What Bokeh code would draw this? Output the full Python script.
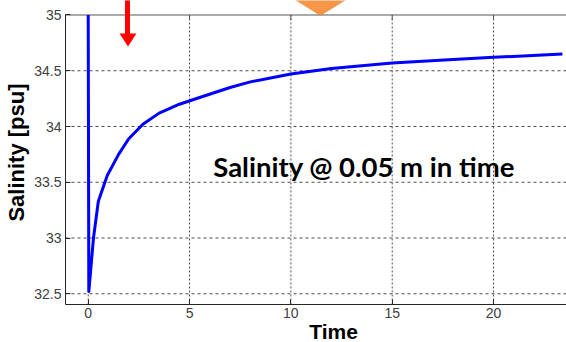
import math
from bokeh.plotting import figure
from bokeh.models import Range1d, FixedTicker, Label, PolyAnnotation
from bokeh.embed import file_html
from bokeh.resources import INLINE

# Surface salinity (0.05 m) through time
time = [0.0, 0.03, 0.26, 0.5, 0.94, 1.5, 2.0, 2.7, 3.5, 4.5, 5.5, 7.0, 8.0,
        10.0, 12.0, 15.0, 18.0, 20.0, 23.4]
salinity = [35.0, 32.52, 33.0, 33.33, 33.56, 33.75, 33.89, 34.02, 34.12, 34.2,
            34.26, 34.35, 34.40, 34.47, 34.52, 34.57, 34.60, 34.62, 34.65]

x_ticks = [0, 5, 10, 15, 20]
y_ticks = [32.5, 33.0, 33.5, 34.0, 34.5, 35.0]
y_tick_labels = {32.5: "32.5", 33.0: "33", 33.5: "33.5", 34.0: "34", 34.5: "34.5", 35.0: "35"}

# axes box limits (data units)
x_lo, x_hi = -1.12, 23.6
y_lo, y_hi = 32.404, 35.0

# the frame fills the whole canvas; the axes sit at fixed locations inside it
p = figure(width=566, height=342,
           x_range=Range1d(-4.328, 23.60), y_range=Range1d(32.063, 35.130),
           output_backend="svg", toolbar_location=None,
           min_border_left=0, min_border_right=0, min_border_top=0, min_border_bottom=0,
           outline_line_color=None,
           background_fill_color="white", border_fill_color="white")
p.grid.visible = False

# dashed grid at the tick positions, limited to the axes box
p.segment(x0=x_ticks, y0=[y_lo] * len(x_ticks), x1=x_ticks, y1=[y_hi] * len(x_ticks),
          line_color="#4d4d4d", line_width=1, line_dash="2 2")
p.segment(x0=[x_lo] * 5, y0=y_ticks[:-1], x1=[x_hi] * 5, y1=y_ticks[:-1],
          line_color="#4d4d4d", line_width=1, line_dash="3 3")

# top edge of the box with small inward ticks
p.segment(x0=[x_lo], y0=[y_hi], x1=[x_hi], y1=[y_hi], line_color="#555555", line_width=1)
p.segment(x0=x_ticks, y0=[y_hi] * len(x_ticks), x1=x_ticks,
          y1=[y_hi - 0.045] * len(x_ticks), line_color="#555555", line_width=1)

p.line(time, salinity, line_color="#0000FF", line_width=3, line_join="round")

for ax in (p.xaxis[0], p.yaxis[0]):
    ax.major_tick_in = 5
    ax.major_tick_out = 0
    ax.minor_tick_in = 0
    ax.minor_tick_out = 0
    ax.axis_line_color = "#262626"
    ax.major_tick_line_color = "#262626"
    ax.major_label_text_font = "Liberation Sans"
    ax.major_label_text_font_size = "14px"
    ax.major_label_text_color = "#404040"

p.xaxis.ticker = FixedTicker(ticks=x_ticks)
p.yaxis.ticker = FixedTicker(ticks=y_ticks)
p.yaxis.major_label_overrides = y_tick_labels
p.xaxis.fixed_location = y_lo
p.yaxis.fixed_location = x_lo
p.xaxis.bounds = (x_lo, x_hi)
p.yaxis.bounds = (y_lo, y_hi)
p.xaxis.major_label_standoff = 4
p.yaxis.major_label_standoff = 4

# axis titles (screen units measured from the frame's lower-left corner)
p.add_layout(Label(x=16, y=190, x_units="screen", y_units="screen",
                   text="Salinity [psu]", angle=math.pi / 2,
                   text_align="center", text_baseline="middle",
                   text_font="Liberation Sans", text_font_style="bold",
                   text_font_size="22px", text_color="black"))
p.add_layout(Label(x=333, y=11, x_units="screen", y_units="screen",
                   text="Time", text_align="center", text_baseline="alphabetic",
                   text_font="Liberation Sans", text_font_style="bold",
                   text_font_size="21px", text_color="black"))

p.add_layout(Label(x=6.17, y=33.645, text="Salinity @ 0.05 m in time",
                   text_align="left", text_baseline="alphabetic",
                   text_font="Lato", text_font_style="bold",
                   text_font_size="27.5px", text_color="black"))

# red marker arrow
p.add_layout(PolyAnnotation(xs=[124.5, 129.5, 129.5, 124.5], ys=[344, 344, 308, 308],
                            xs_units="screen", ys_units="screen",
                            fill_color="#FF0000", fill_alpha=1, line_color=None))
p.add_layout(PolyAnnotation(xs=[119, 136, 127.5], ys=[309, 309, 296],
                            xs_units="screen", ys_units="screen",
                            fill_color="#FF0000", fill_alpha=1, line_color=None))
# orange pointer
p.add_layout(PolyAnnotation(xs=[291, 349, 320], ys=[345, 345, 327],
                            xs_units="screen", ys_units="screen",
                            fill_color="#F79646", fill_alpha=1,
                            line_color="#D9772F", line_width=1.2))

open("out.html", "w").write(file_html(p, INLINE))
